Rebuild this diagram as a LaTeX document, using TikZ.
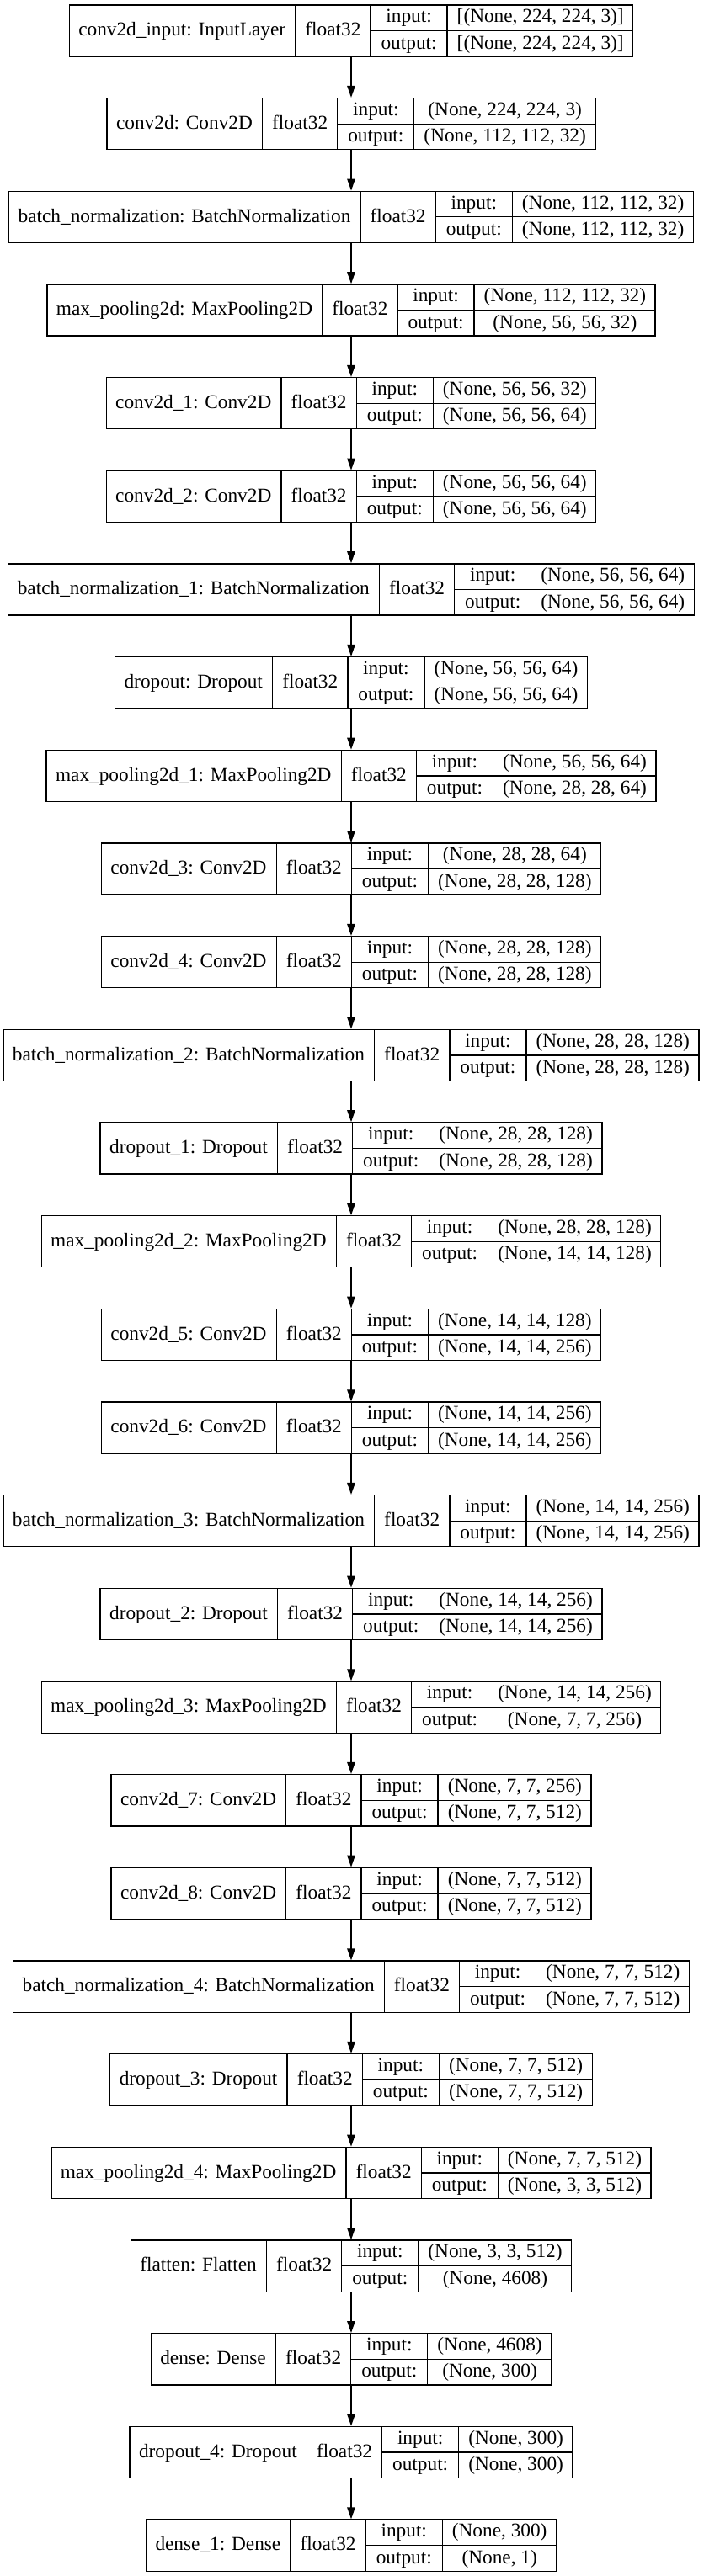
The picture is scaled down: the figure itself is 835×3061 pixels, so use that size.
\documentclass[tikz,border=0pt]{standalone}
\usepackage{fontspec}
\setmainfont{Liberation Serif}
\usepackage{array}
\usetikzlibrary{arrows.meta}

\setlength{\tabcolsep}{11pt}
\setlength{\arrayrulewidth}{1.3pt}
\renewcommand{\arraystretch}{1.09}

% one keras record: name | dtype | input/output | shapes
\newcommand{\kerasrec}[3]{%
  \begin{tabular}{c|c|@{}c@{}}
    #1 & float32 &
    \begin{tabular}{c|c}
      \makebox[67.7pt]{input:} & #2\\ \hline
      output: & #3
    \end{tabular}
  \end{tabular}}

\begin{document}
\begin{tikzpicture}[
    x=1pt, y=1pt,
    record/.style={draw, line width=1.3pt, inner sep=0pt, font=\fontsize{23.3}{27.5}\selectfont},
    flow/.style={-{Triangle[length=14pt,width=9.5pt]}, line width=1.3pt}
]
\useasboundingbox (0,0) rectangle (835,-3061);

% Block 1
\node[record] (inp)   at (417,-36.5)  {\kerasrec{conv2d\_input: InputLayer}{[(None, 224, 224, 3)]}{[(None, 224, 224, 3)]}};
\node[record] (conv)  at (417,-147.2) {\kerasrec{conv2d: Conv2D}{(None, 224, 224, 3)}{(None, 112, 112, 32)}};
\node[record] (bn)    at (417,-257.8) {\kerasrec{batch\_normalization: BatchNormalization}{(None, 112, 112, 32)}{(None, 112, 112, 32)}};
\node[record] (pool)  at (417,-368.5) {\kerasrec{max\_pooling2d: MaxPooling2D}{(None, 112, 112, 32)}{(None, 56, 56, 32)}};

% Block 2
\node[record] (conv1) at (417,-479.2) {\kerasrec{conv2d\_1: Conv2D}{(None, 56, 56, 32)}{(None, 56, 56, 64)}};
\node[record] (conv2) at (417,-589.9) {\kerasrec{conv2d\_2: Conv2D}{(None, 56, 56, 64)}{(None, 56, 56, 64)}};
\node[record] (bn1)   at (417,-700.5) {\kerasrec{batch\_normalization\_1: BatchNormalization}{(None, 56, 56, 64)}{(None, 56, 56, 64)}};
\node[record] (drop)  at (417,-811.2) {\kerasrec{dropout: Dropout}{(None, 56, 56, 64)}{(None, 56, 56, 64)}};
\node[record] (pool1) at (417,-921.9) {\kerasrec{max\_pooling2d\_1: MaxPooling2D}{(None, 56, 56, 64)}{(None, 28, 28, 64)}};

% Block 3
\node[record] (conv3) at (417,-1032.5) {\kerasrec{conv2d\_3: Conv2D}{(None, 28, 28, 64)}{(None, 28, 28, 128)}};
\node[record] (conv4) at (417,-1143.2) {\kerasrec{conv2d\_4: Conv2D}{(None, 28, 28, 128)}{(None, 28, 28, 128)}};
\node[record] (bn2)   at (417,-1253.9) {\kerasrec{batch\_normalization\_2: BatchNormalization}{(None, 28, 28, 128)}{(None, 28, 28, 128)}};
\node[record] (drop1) at (417,-1364.5) {\kerasrec{dropout\_1: Dropout}{(None, 28, 28, 128)}{(None, 28, 28, 128)}};
\node[record] (pool2) at (417,-1475.2) {\kerasrec{max\_pooling2d\_2: MaxPooling2D}{(None, 28, 28, 128)}{(None, 14, 14, 128)}};

% Block 4
\node[record] (conv5) at (417,-1585.9) {\kerasrec{conv2d\_5: Conv2D}{(None, 14, 14, 128)}{(None, 14, 14, 256)}};
\node[record] (conv6) at (417,-1696.6) {\kerasrec{conv2d\_6: Conv2D}{(None, 14, 14, 256)}{(None, 14, 14, 256)}};
\node[record] (bn3)   at (417,-1807.2) {\kerasrec{batch\_normalization\_3: BatchNormalization}{(None, 14, 14, 256)}{(None, 14, 14, 256)}};
\node[record] (drop2) at (417,-1917.9) {\kerasrec{dropout\_2: Dropout}{(None, 14, 14, 256)}{(None, 14, 14, 256)}};
\node[record] (pool3) at (417,-2028.6) {\kerasrec{max\_pooling2d\_3: MaxPooling2D}{(None, 14, 14, 256)}{(None, 7, 7, 256)}};

% Block 5
\node[record] (conv7) at (417,-2139.2) {\kerasrec{conv2d\_7: Conv2D}{(None, 7, 7, 256)}{(None, 7, 7, 512)}};
\node[record] (conv8) at (417,-2249.9) {\kerasrec{conv2d\_8: Conv2D}{(None, 7, 7, 512)}{(None, 7, 7, 512)}};
\node[record] (bn4)   at (417,-2360.6) {\kerasrec{batch\_normalization\_4: BatchNormalization}{(None, 7, 7, 512)}{(None, 7, 7, 512)}};
\node[record] (drop3) at (417,-2471.2) {\kerasrec{dropout\_3: Dropout}{(None, 7, 7, 512)}{(None, 7, 7, 512)}};
\node[record] (pool4) at (417,-2581.9) {\kerasrec{max\_pooling2d\_4: MaxPooling2D}{(None, 7, 7, 512)}{(None, 3, 3, 512)}};

% Head
\node[record] (flat)   at (417,-2692.6) {\kerasrec{flatten: Flatten}{(None, 3, 3, 512)}{(None, 4608)}};
\node[record] (dense)  at (417,-2803.3) {\kerasrec{dense: Dense}{(None, 4608)}{(None, 300)}};
\node[record] (drop4)  at (417,-2913.9) {\kerasrec{dropout\_4: Dropout}{(None, 300)}{(None, 300)}};
\node[record] (dense1) at (417,-3024.6) {\kerasrec{dense\_1: Dense}{(None, 300)}{(None, 1)}};

% Data flow
\foreach \a/\b in {inp/conv, conv/bn, bn/pool, pool/conv1, conv1/conv2, conv2/bn1, bn1/drop,
    drop/pool1, pool1/conv3, conv3/conv4, conv4/bn2, bn2/drop1, drop1/pool2, pool2/conv5,
    conv5/conv6, conv6/bn3, bn3/drop2, drop2/pool3, pool3/conv7, conv7/conv8, conv8/bn4,
    bn4/drop3, drop3/pool4, pool4/flat, flat/dense, dense/drop4, drop4/dense1}
  \draw[flow] (\a) -- (\b);

\end{tikzpicture}
\end{document}
